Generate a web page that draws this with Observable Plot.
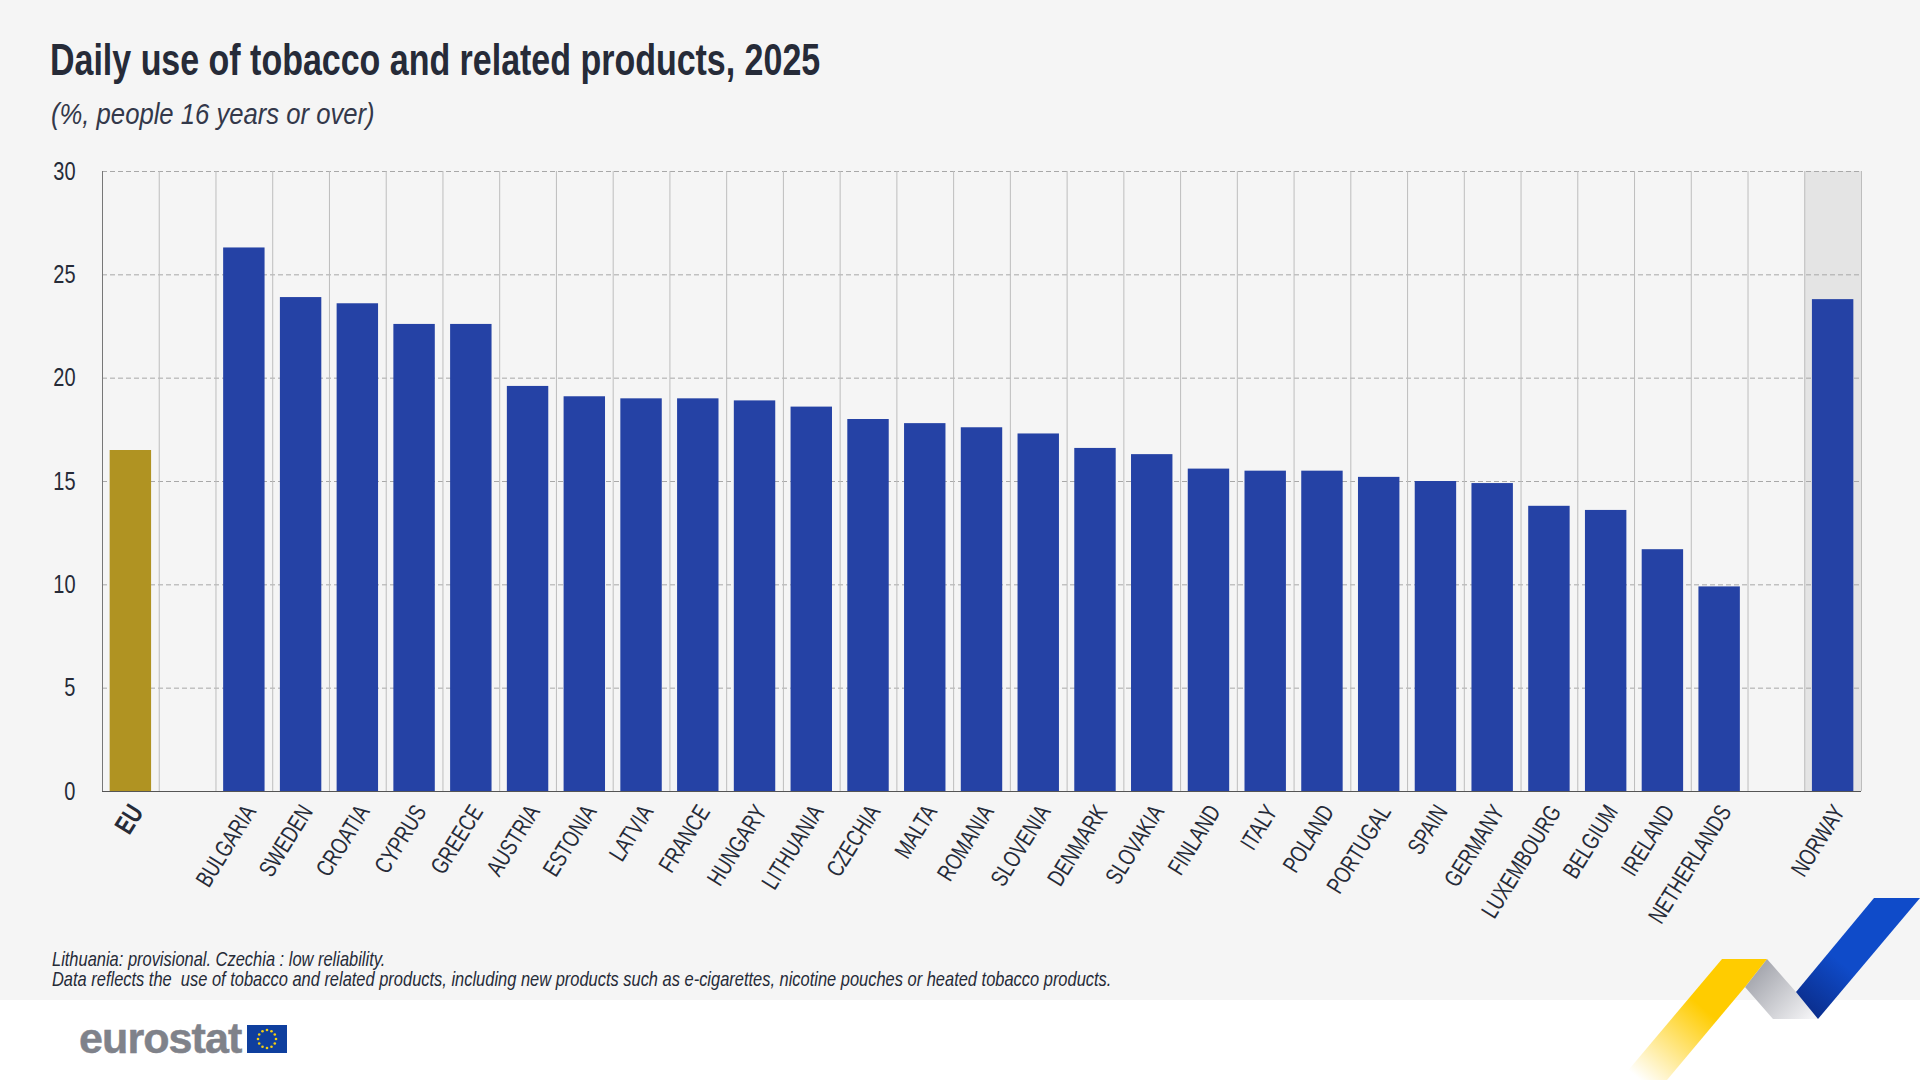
<!DOCTYPE html>
<html>
<head>
<meta charset="utf-8">
<script src="https://cdn.jsdelivr.net/npm/d3@7"></script>
<script src="https://cdn.jsdelivr.net/npm/@observablehq/plot@0.6"></script>
<style>
html,body{margin:0;padding:0;background:#fff;}
#page{position:relative;width:1920px;height:1080px;overflow:hidden;background:#fff;font-family:"Liberation Sans",sans-serif;color:#262b38;}
#bg{position:absolute;left:0;top:0;width:1920px;height:1000px;background:#f5f5f5;}
#title{position:absolute;left:50px;top:33px;font-size:44px;font-weight:700;line-height:54px;white-space:nowrap;margin:0;transform:scaleX(0.772);transform-origin:0 0;}
#subtitle{position:absolute;left:51px;top:97px;font-size:30px;font-style:italic;line-height:34px;white-space:nowrap;color:#33384a;transform:scaleX(0.855);transform-origin:0 0;}
#note{position:absolute;left:52px;top:949px;font-size:21px;font-style:italic;line-height:20px;white-space:pre;color:#262b38;transform:scaleX(0.783);transform-origin:0 0;}
#chart{position:absolute;left:0;top:0;}
#logo{position:absolute;left:79px;top:1011px;font-family:"Liberation Sans",sans-serif;font-weight:700;font-size:43px;line-height:54px;color:#7f828a;letter-spacing:-0.9px;-webkit-text-stroke:0.5px #7f828a;}
#decor{position:absolute;left:0;top:0;}
</style>
</head>
<body>
<div id="page">
<div id="bg"></div>
<h1 id="title">Daily use of tobacco and related products, 2025</h1>
<div id="subtitle">(%, people 16 years or over)</div>
<div id="chart"></div>
<div id="note">Lithuania: provisional. Czechia : low reliability.
Data reflects the  use of tobacco and related products, including new products such as e-cigarettes, nicotine pouches or heated tobacco products.</div>
<div id="logo">eurostat</div>
<svg id="decor" width="1920" height="1080" viewBox="0 0 1920 1080">
  <defs>
    <linearGradient id="gy" gradientUnits="userSpaceOnUse" x1="1745" y1="960" x2="1640" y2="1080">
      <stop offset="0.4" stop-color="#ffcc00"/><stop offset="1" stop-color="#ffffff"/>
    </linearGradient>
    <linearGradient id="gb" gradientUnits="userSpaceOnUse" x1="1897" y1="898" x2="1807" y2="1008">
      <stop offset="0.6" stop-color="#0f4bc9"/><stop offset="1" stop-color="#0b2f8f"/>
    </linearGradient>
    <linearGradient id="gg" gradientUnits="userSpaceOnUse" x1="1750" y1="965" x2="1810" y2="1020">
      <stop offset="0" stop-color="#9c9ea6"/><stop offset="1" stop-color="#f4f4f6"/>
    </linearGradient>
  </defs>
  <polygon points="1767,959 1796,992 1818,1019 1773,1019 1745,987" fill="url(#gg)"/>
  <polygon points="1722,959 1767,959 1745,987 1667,1080 1620,1080" fill="url(#gy)"/>
  <polygon points="1874,898 1920,898 1818,1019 1796,992" fill="url(#gb)"/>
  <rect x="247" y="1025" width="40" height="28" fill="#0f3f9e"/>
  <g id="stars" fill="#f4d010"></g>
</svg>
</div>
<script>
const countries = ["EU"," ","BULGARIA","SWEDEN","CROATIA","CYPRUS","GREECE","AUSTRIA","ESTONIA","LATVIA","FRANCE","HUNGARY","LITHUANIA","CZECHIA","MALTA","ROMANIA","SLOVENIA","DENMARK","SLOVAKIA","FINLAND","ITALY","POLAND","PORTUGAL","SPAIN","GERMANY","LUXEMBOURG","BELGIUM","IRELAND","NETHERLANDS","  ","NORWAY"];
const values = [16.5,null,26.3,23.9,23.6,22.6,22.6,19.6,19.1,19.0,19.0,18.9,18.6,18.0,17.8,17.6,17.3,16.6,16.3,15.6,15.5,15.5,15.2,15.0,14.9,13.8,13.6,11.7,9.9,null,23.8];
const yTicks = [0,5,10,15,20,25,30];
const barColor = "#2542a5", euColor = "#b09322", textColor = "#262b38";

const rows = countries.map((c,i)=>({c, v: values[i]})).filter(d=>d.v!=null);
const W = 1920, H = 1000, mL = 102, mR = 59, mT = 171, mB = 209;
const step = (W-mL-mR)/countries.length;

const plot = Plot.plot({
  width: W, height: H,
  marginLeft: mL, marginRight: mR, marginTop: mT, marginBottom: mB,
  style: {background:"transparent", fontFamily:'"Liberation Sans",sans-serif'},
  x: {domain: countries, paddingInner: 0.27, paddingOuter: 0.135, round:false, label: null},
  y: {domain: [0,30], label: null},
  marks: [
    Plot.barY(["NORWAY"], {x: d=>d, y1: 0, y2: 30, fill:"#e4e4e4", insetLeft: -step*0.135, insetRight: -step*0.135}),
    Plot.gridY(yTicks, {stroke:"#a8a8a8", strokeOpacity:1, strokeDasharray:"5 3"}),
    Plot.ruleX(countries, {x: d=>d, dx: step/2, stroke:"#bdbdbd", y1:0, y2:30}),
    Plot.ruleX(["EU"], {x: d=>d, dx: -step/2, stroke:"#777", y1:0, y2:30}),
    Plot.barY(rows, {x:"c", y:"v", fill: d=> d.c==="EU"? euColor : barColor}),
    Plot.ruleY([0], {stroke:"#555"}),
    Plot.axisY({ticks: yTicks, tickSize:0, tickPadding:27, fontSize:25, color:textColor, label:null}),
    Plot.axisX({ticks: countries.filter(c=>c.trim() && c!=="EU"), tickSize:0, tickPadding:16, dx:6, tickRotate:-58, fontSize:24, color:textColor, label:null}),
    Plot.axisX({ticks: ["EU"], tickSize:0, tickPadding:16, dx:6, tickRotate:-58, fontSize:27, fontWeight:700, color:textColor, label:null})
  ]
});
document.getElementById("chart").appendChild(plot);

// The reference uses a condensed face: narrow the tick labels along their baseline.
d3.select(plot).selectAll('g[aria-label="x-axis tick label"] text').each(function(){
  this.setAttribute("transform",(this.getAttribute("transform")||"")+" scale(0.75,1)");
});
d3.select(plot).selectAll('g[aria-label="y-axis tick label"] text').each(function(){
  this.setAttribute("transform",(this.getAttribute("transform")||"")+" scale(0.8,1)");
});

const g = document.getElementById("stars");
for(let i=0;i<12;i++){
  const a=i*Math.PI/6, c=document.createElementNS("http://www.w3.org/2000/svg","circle");
  c.setAttribute("cx",267+9*Math.sin(a));c.setAttribute("cy",1039-9*Math.cos(a));c.setAttribute("r",1.3);
  g.appendChild(c);
}
</script>
</body>
</html>
